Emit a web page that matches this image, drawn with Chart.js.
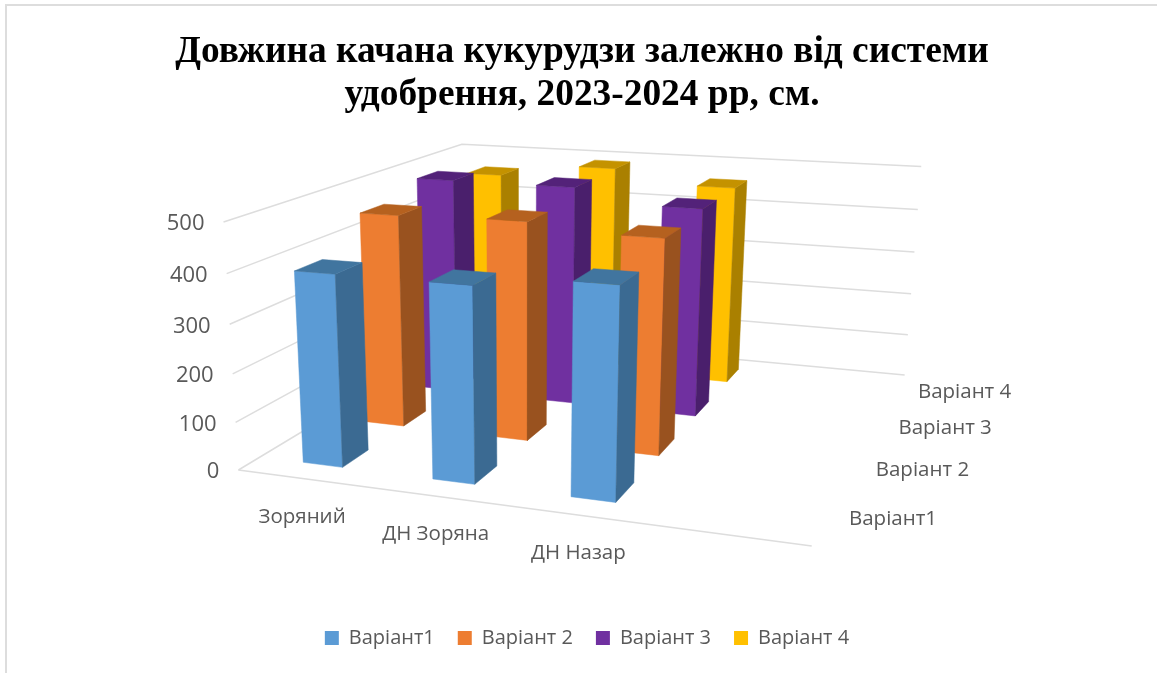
<!DOCTYPE html>
<html>
<head>
<meta charset="utf-8">
<script src="https://cdn.jsdelivr.net/npm/chart.js@4/dist/chart.umd.min.js"></script>
<style>
html, body { margin: 0; padding: 0; background: #fff; }
#wrap { position: absolute; left: 5px; top: 4px; right: 0; bottom: 0; border-left: 2px solid #DDD; border-top: 2px solid #DDD; }
</style>
</head>
<body>
<div id="wrap"><canvas id="chart"></canvas></div>
<script>
const categories = ['Зоряний', 'ДН Зоряна', 'ДН Назар'];
const seriesNames = ['Варіант1', 'Варіант 2', 'Варіант 3', 'Варіант 4'];
const variant1 = [395, 395, 418];
const variant2 = [460, 465, 450];
const variant3 = [490, 490, 460];
const variant4 = [460, 490, 460];
const yTicks = [0, 100, 200, 300, 400, 500];

const seriesValues = [variant1, variant2, variant3, variant4];
const categorySlots = 4;   // the sheet had one empty category on the right
const yMax = 500;
const barWidth = 0.31;
const barDepth = 0.40;
const pageLeft = 7;        // where the canvas starts on the page
const pageTop = 6;

// front, side, top
const shades = [
    ['#5B9BD5', '#3B6A92', '#41759F'],
    ['#ED7D31', '#99521F', '#B5611F'],
    ['#7030A0', '#4A1F6C', '#532279'],
    ['#FFC000', '#AA8000', '#C49200']
];
const gridColor = '#DDDDDD';
const textColor = '#595959';
const labelFont = '20.5px "Open Sans"';
const tickFont = '22px "Open Sans"';

// camera: u along categories, v into the depth, h up, all 0..1
function project(u, v, h) {
    const w = 1 - 0.126 * u + 0.328 * v - 0.05 * h;
    return {
        x: (238 + 471.7 * u + 378.2 * v - 26.1 * h) / w,
        y: (470 + 7.2 * u - 26.4 * v - 259.1 * h) / w
    };
}

const datasets = [];

function addShape(points, color, isLine) {
    datasets.push({
        type: 'line',
        data: points,
        borderColor: color,
        borderWidth: isLine ? 1.5 : 0.5,
        backgroundColor: color,
        fill: isLine ? false : 'shape',
        pointRadius: 0,
        tension: 0,
        order: -datasets.length
    });
}

yTicks.forEach(tick => {
    const h = tick / yMax;
    addShape([project(0, 0, h), project(0, 1, h), project(1, 1, h)], gridColor, true);
});
addShape([project(0, 0, 0), project(1, 0, 0)], gridColor, true);

// paint from the back row forward, left to right
for (let s = seriesValues.length - 1; s >= 0; s--) {
    categories.forEach((cat, c) => {
        const uMid = (c + 0.5) / categorySlots;
        const vMid = (s + 0.5) / seriesValues.length;
        const u0 = uMid - barWidth / categorySlots / 2;
        const u1 = uMid + barWidth / categorySlots / 2;
        const v0 = vMid - barDepth / seriesValues.length / 2;
        const v1 = vMid + barDepth / seriesValues.length / 2;
        const h = seriesValues[s][c] / yMax;
        addShape([project(u0, v0, 0), project(u1, v0, 0), project(u1, v0, h), project(u0, v0, h), project(u0, v0, 0)], shades[s][0]);
        addShape([project(u1, v0, 0), project(u1, v1, 0), project(u1, v1, h), project(u1, v0, h), project(u1, v0, 0)], shades[s][1]);
        addShape([project(u0, v0, h), project(u1, v0, h), project(u1, v1, h), project(u0, v1, h), project(u0, v0, h)], shades[s][2]);
    });
}

const axisLabels = {
    id: 'axisLabels',
    afterLayout(chart) {
        // legend sits a little right of the page centre in the original
        chart.legend.left += 5;
        chart.legend.right += 5;
    },
    afterDatasetsDraw(chart) {
        const {ctx, scales} = chart;
        const put = (text, p, dx, dy, align) => {
            ctx.textAlign = align;
            ctx.fillText(text, scales.x.getPixelForValue(p.x) + dx, scales.y.getPixelForValue(p.y) + dy);
        };
        ctx.save();
        ctx.fillStyle = textColor;
        ctx.textBaseline = 'middle';
        ctx.font = tickFont;
        yTicks.forEach(tick => put(String(tick), project(0, 0, tick / yMax), -19, 2, 'right'));
        ctx.font = labelFont;
        categories.forEach((cat, c) => put(cat, project((c + 0.5) / categorySlots, 0, 0), 0, 38.5, 'center'));
        seriesNames.forEach((name, s) => put(name, project(1, (s + 0.5) / seriesNames.length, 0), 22, 1.5, 'left'));
        ctx.restore();
    }
};

const chart = new Chart(document.getElementById('chart'), {
    type: 'scatter',
    data: {datasets: datasets},
    options: {
        responsive: true,
        maintainAspectRatio: false,
        animation: false,
        events: [],
        layout: {padding: {bottom: 15}},
        scales: {
            x: {type: 'linear', display: false, min: 0, max: 1157},
            y: {type: 'linear', display: false, reverse: true, min: 0, max: 673}
        },
        plugins: {
            title: {
                display: true,
                text: ['Довжина качана кукурудзи залежно від системи', 'удобрення, 2023-2024 рр, см.'],
                color: '#000',
                font: {family: '"Liberation Serif"', size: 37.4, weight: 'bold', lineHeight: 1.15},
                padding: {top: 25, bottom: 10}
            },
            legend: {
                position: 'bottom',
                labels: {
                    boxWidth: 14,
                    boxHeight: 14,
                    padding: 23,
                    color: textColor,
                    font: {family: '"Open Sans"', size: 20},
                    generateLabels: () => seriesNames.map((name, s) => ({
                        text: name,
                        fillStyle: shades[s][0],
                        strokeStyle: shades[s][0],
                        fontColor: textColor,
                        lineWidth: 0,
                        hidden: false
                    }))
                }
            },
            tooltip: {enabled: false}
        }
    },
    plugins: [axisLabels]
});

// hidden axes: make data units equal page pixels inside whatever area the layout left
const area = chart.chartArea;
chart.options.scales.x.min = area.left + pageLeft;
chart.options.scales.x.max = area.right + pageLeft;
chart.options.scales.y.min = area.top + pageTop;
chart.options.scales.y.max = area.bottom + pageTop;
chart.update('none');
</script>
</body>
</html>
